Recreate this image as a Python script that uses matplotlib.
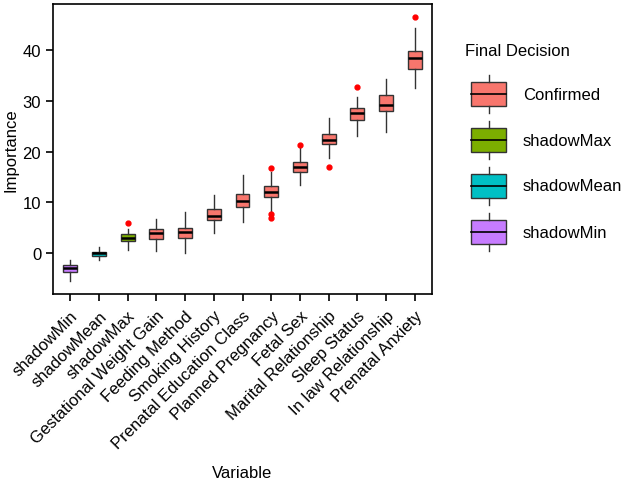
import matplotlib.pyplot as plt
import matplotlib.transforms as mtransforms
from matplotlib.patches import Rectangle

plt.rcParams['font.family'] = ['Liberation Sans', 'DejaVu Sans']

# variables in plotted order
variables = [
    "shadowMin", "shadowMean", "shadowMax", "Gestational Weight Gain",
    "Feeding Method", "Smoking History", "Prenatal Education Class",
    "Planned Pregnancy", "Fetal Sex", "Marital Relationship",
    "Sleep Status", "In law Relationship", "Prenatal Anxiety",
]
decision = [
    "shadowMin", "shadowMean", "shadowMax", "Confirmed", "Confirmed",
    "Confirmed", "Confirmed", "Confirmed", "Confirmed", "Confirmed",
    "Confirmed", "Confirmed", "Confirmed",
]

# box stats
whisker_low = [-5.4, -1.4, 0.7, 0.4, 0.0, 4.0, 6.2, 8.3, 13.4, 18.7, 23.0, 23.75, 32.5]
q1 = [-3.6, -0.45, 2.35, 2.75, 3.0, 6.55, 9.1, 11.0, 15.9, 21.5, 26.2, 27.9, 36.3]
median = [-2.95, 0.0, 3.1, 3.9, 4.25, 7.33, 10.35, 12.1, 16.9, 22.3, 27.6, 29.1, 38.35]
q3 = [-2.3, 0.3, 3.8, 4.8, 5.0, 8.7, 11.7, 13.15, 18.0, 23.5, 28.6, 31.2, 39.7]
whisker_high = [-1.24, 1.2, 4.8, 6.7, 8.05, 11.45, 15.4, 16.0, 20.6, 26.6, 30.8, 34.2, 44.2]
outliers = [[], [], [5.95], [], [], [], [], [16.8, 7.65, 7.0], [21.3], [17.0], [32.7], [], [46.5]]

legend_names = ["Confirmed", "shadowMax", "shadowMean", "shadowMin"]
palette = {
    "Confirmed": "#F8766D",
    "shadowMax": "#7CAE00",
    "shadowMean": "#00BFC4",
    "shadowMin": "#C77CFF",
}

fig = plt.figure(figsize=(6.24, 4.85), dpi=100)
ax = fig.add_axes([53 / 624, 1 - 295 / 485, 379 / 624, 290 / 485])

stats = []
for i, name in enumerate(variables):
    stats.append({
        "label": name, "whislo": whisker_low[i], "q1": q1[i], "med": median[i],
        "q3": q3[i], "whishi": whisker_high[i], "fliers": outliers[i],
    })

bp = ax.bxp(
    stats, positions=range(len(variables)), widths=0.48, patch_artist=True,
    showcaps=False,
    boxprops=dict(edgecolor="#333333", linewidth=1.0),
    whiskerprops=dict(color="#333333", linewidth=1.0),
    medianprops=dict(color="black", linewidth=1.8),
    flierprops=dict(marker="o", markerfacecolor="red", markeredgecolor="red",
                    markersize=3.5, linestyle="none"),
)
for patch, d in zip(bp["boxes"], decision):
    patch.set_facecolor(palette[d])

ax.set_xlim(-0.6, len(variables) - 0.4)
ax.set_ylim(-8.0, 49.0)
ax.set_yticks([0, 10, 20, 30, 40])
ax.set_xticks(range(len(variables)))
ax.set_xticklabels(variables, rotation=45, ha="right", rotation_mode="anchor")
ax.tick_params(axis="both", labelsize=12, length=5, width=1.2, color="black",
               labelcolor="black")
# nudge the angled labels slightly down, as in the original
shift = mtransforms.ScaledTranslation(0, -2 / 100, fig.dpi_scale_trans)
for lab in ax.get_xticklabels():
    lab.set_transform(lab.get_transform() + shift)
for s in ax.spines.values():
    s.set_linewidth(1.2)
    s.set_color("black")
ax.set_xlabel("Variable", fontsize=12)
ax.set_ylabel("Importance", fontsize=12)
ax.yaxis.set_label_coords(-0.09, 0.5)
ax.xaxis.set_label_coords(0.5, -0.59)

# legend drawn as small boxplot keys
fig.text(465 / 624, 1 - 52 / 485, "Final Decision", fontsize=12, va="center")
for k, name in enumerate(legend_names):
    yc = 1 - (95 + 46 * k) / 485
    x0, w = 471 / 624, 35 / 624
    h = 24 / 485
    fig.add_artist(Rectangle((x0, yc - h / 2), w, h, transform=fig.transFigure,
                             facecolor=palette[name], edgecolor="#333333", lw=1.0))
    fig.add_artist(plt.Line2D([x0, x0 + w], [yc, yc], transform=fig.transFigure,
                              color="black", lw=1.2))
    xm = x0 + w / 2
    fig.add_artist(plt.Line2D([xm, xm], [yc + h / 2, yc + h / 2 + 7 / 485],
                              transform=fig.transFigure, color="#333333", lw=1.0))
    fig.add_artist(plt.Line2D([xm, xm], [yc - h / 2, yc - h / 2 - 7 / 485],
                              transform=fig.transFigure, color="#333333", lw=1.0))
    fig.text(523 / 624, yc, name, fontsize=12, va="center")

fig.savefig("out.png", dpi=100)
